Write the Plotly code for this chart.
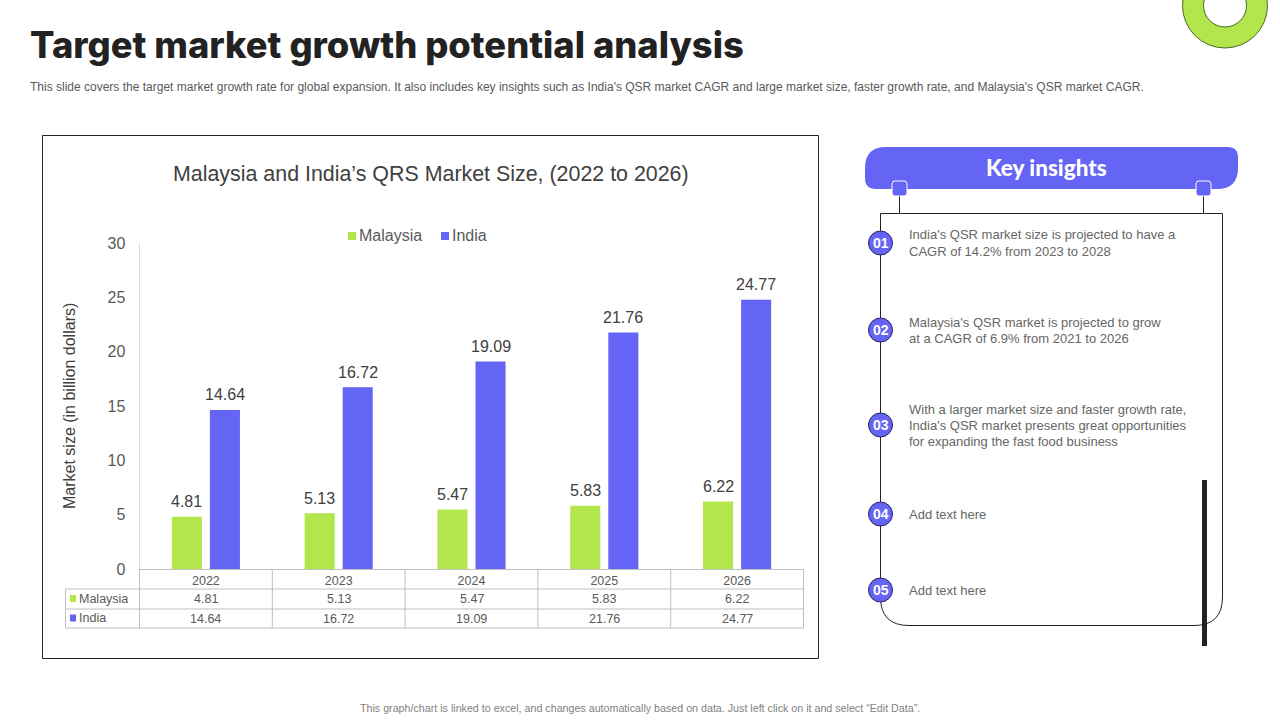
import plotly.graph_objects as go

W, H = 1280, 720
years = ["2022", "2023", "2024", "2025", "2026"]
malaysia = [4.81, 5.13, 5.47, 5.83, 6.22]
india = [14.64, 16.72, 19.09, 21.76, 24.77]
y_ticks = [0, 5, 10, 15, 20, 25, 30]
insights = [
    "India's QSR market size is projected to have a<br>CAGR of 14.2% from 2023 to 2028",
    "Malaysia's QSR market is projected to grow<br>at a CAGR of 6.9% from 2021 to 2026",
    "With a larger market size and faster growth rate,<br>India's QSR market presents great opportunities<br>for expanding the fast food business",
    "Add text here",
    "Add text here",
]
insight_nums = ["01", "02", "03", "04", "05"]
insight_y = [243, 330, 425, 514, 590]
title = "Target market growth potential analysis"
subtitle = ("This slide covers the target market growth rate for global expansion. It also includes key insights such as "
            "India's QSR market CAGR and large market size, faster growth rate, and Malaysia's QSR market CAGR.")
footer = "This graph/chart is linked to excel, and changes automatically based on data. Just left click on it and select \u201cEdit Data\u201d."
chart_title = "Malaysia and India\u2019s QRS Market Size, (2022 to 2026)"
y_title = "Market size (in billion dollars)"

GREEN = "#B2E64C"
PURPLE = "#6464F5"
TXT = "#595959"
DARK = "#222222"
FONT = "Liberation Sans"
PX0, PX1 = 139.5, 803.5
PY0, PY1 = 569, 243


def fx(x):
    return x / W


def fy(y):
    return 1 - y / H


shapes, ann = [], []


def note(x, y, text, size=12, color=TXT, anchor="left", family=FONT, weight=None, angle=0):
    f = dict(size=size, color=color, family=family)
    if weight:
        f["weight"] = weight
    ann.append(dict(x=fx(x), y=fy(y), xref="paper", yref="paper", text=text, showarrow=False,
                    xanchor=anchor, yanchor="middle", align="left" if anchor == "left" else "center",
                    font=f, textangle=angle, borderpad=0, borderwidth=0))


def line(x0, y0, x1, y1, color=DARK, width=1):
    shapes.append(dict(type="line", xref="paper", yref="paper", x0=fx(x0), y0=fy(y0), x1=fx(x1), y1=fy(y1),
                       line=dict(color=color, width=width)))


def rect(x0, y0, x1, y1, fill="rgba(0,0,0,0)", color=None, width=0):
    shapes.append(dict(type="rect", xref="paper", yref="paper", x0=fx(x0), y0=fy(y0), x1=fx(x1), y1=fy(y1),
                       fillcolor=fill, line=dict(color=color or fill, width=width)))


def circle(cx, cy, r, fill, color, width=1):
    shapes.append(dict(type="circle", xref="paper", yref="paper", x0=fx(cx - r), y0=fy(cy - r), x1=fx(cx + r),
                       y1=fy(cy + r), fillcolor=fill, line=dict(color=color, width=width)))


def path(points, fill=None, color=None, width=0):
    out = []
    for p in points:
        if isinstance(p, str):
            out.append(p)
        else:
            out.append(f"{fx(p[0]):.5f},{fy(p[1]):.5f}")
    shapes.append(dict(type="path", xref="paper", yref="paper", path=" ".join(out),
                       fillcolor=fill or "rgba(0,0,0,0)", line=dict(color=color or "rgba(0,0,0,0)", width=width)))


# decorative donut
circle(1225, 5.5, 42.5, GREEN, "#4A6A20", 1)
circle(1225, 5.5, 21.5, "#FFFFFF", "#4A6A20", 1)

# chart frame
rect(42.5, 135.5, 818.5, 658.5, "rgba(0,0,0,0)", "#222222", 1)

# data table grid
GRID = "#BFBFBF"
cw = (PX1 - PX0) / len(years)
for yy in (589, 609, 628):
    line(65.5, yy, PX1, yy, GRID, 1)
line(65.5, 589, 65.5, 628, GRID, 1)
for i in range(len(years) + 1):
    line(PX0 + i * cw, PY0, PX0 + i * cw, 628, GRID, 1)
for name, vals, col, yy in (("Malaysia", malaysia, GREEN, 598.5), ("India", india, PURPLE, 618)):
    rect(70, yy - 3.5, 76, yy + 3.5, col)
    note(79, yy, name, 12.5)
    for i, v in enumerate(vals):
        note(PX0 + (i + 0.5) * cw, yy + 0.5, f"{v:.2f}", 12.5, anchor="center")

# hand legend
rect(348, 232, 356, 240, GREEN)
note(359, 235.5, "Malaysia", 16)
rect(441, 232, 449, 240, PURPLE)
note(451.5, 235.5, "India", 16)

# insights panel
path(["M", (865, 168), "Q", (865, 147), (886, 147), "L", (1228, 147), "Q", (1238, 147), (1238, 158),
     "L", (1238, 168), "Q", (1238, 189), (1217, 189), "L", (876, 189), "Q", (865, 189), (865, 178), "Z"], PURPLE)
path(["M", (880.5, 243), "L", (880.5, 213.5), "L", (1222.5, 213.5), "L", (1222.5, 597),
     "Q", (1222.5, 625.5), (1194, 625.5), "L", (909, 625.5), "Q", (880.5, 625.5), (880.5, 597), "Z"],
     None, "#222222", 1)
line(899.5, 196, 899.5, 213, "#222222", 1)
line(1203.5, 196, 1203.5, 213, "#222222", 1)
for x0 in (892, 1196):
    x1 = x0 + 15
    path(["M", (x0, 184), "Q", (x0, 181), (x0 + 3, 181), "L", (x1 - 3, 181), "Q", (x1, 181), (x1, 184),
          "L", (x1, 193), "Q", (x1, 196), (x1 - 3, 196), "L", (x0 + 3, 196), "Q", (x0, 196), (x0, 193), "Z"],
         PURPLE, "#FFFFFF", 1)
rect(1202, 480, 1207, 646, DARK)
for num, yy, txt in zip(insight_nums, insight_y, insights):
    circle(880.5, yy, 12, PURPLE, "#26265C", 1)
    note(880.5, yy, f"<b>{num}</b>", 14, "#FFFFFF", "center")
    rows = txt.split("<br>")
    for k, row in enumerate(rows):
        note(909, yy + (k - (len(rows) - 1) / 2) * 16, row, 13, "#666666")

# page text
note(30, 45, title, 36.3, "#222222", family="Inter", weight=800)
note(30, 87, subtitle, 12)
note(640, 708, footer, 10.7, "#7F7F7F", "center")
note(431, 174, chart_title, 21.4, "#404040", "center")
note(69, 406, y_title, 16, "#404040", "center", angle=-90)
note(1046, 167, "Key insights", 22.5, "#FFFFFF", "center", family="Lato", weight=900)

fig = go.Figure()
fig.add_bar(name="Malaysia", x=years, y=malaysia, marker_color=GREEN, marker_line_width=0)
fig.add_bar(name="India", x=years, y=india, marker_color=PURPLE, marker_line_width=0)

# value labels placed from the data, shifted onto their bar in the group
for vals, shift in ((malaysia, -19), (india, 19)):
    for i, v in enumerate(vals):
        ann.append(dict(x=i, y=v, xref="x", yref="y", text=f"{v:.2f}", showarrow=False, xshift=shift, yshift=15,
                        xanchor="center", yanchor="middle", font=dict(size=16, color="#404040", family=FONT)))

fig.update_layout(
    width=W, height=H, margin=dict(l=0, r=0, t=0, b=0, pad=0), autosize=False,
    paper_bgcolor="#FFFFFF", plot_bgcolor="#FFFFFF", showlegend=False,
    barmode="group", bargap=0.427, bargroupgap=0.21,
    font=dict(family=FONT, color=TXT), shapes=shapes, annotations=ann,
    xaxis=dict(domain=[fx(PX0), fx(PX1)], type="category", categoryorder="array", categoryarray=years,
               range=[-0.5, len(years) - 0.5], showgrid=False, zeroline=False, showline=True,
               automargin=False, linecolor=GRID, linewidth=1, ticks="",
               tickfont=dict(size=12.5, color=TXT, family=FONT)),
    yaxis=dict(domain=[fy(PY0), fy(PY1)], range=[0, 30], tickvals=y_ticks, showgrid=False, zeroline=False,
               automargin=False, showline=True, linecolor="#D9D9D9", linewidth=1, ticks="",
               tickfont=dict(size=16, color=TXT, family=FONT), ticklabelstandoff=10),
)
fig.write_html("out.html", config=dict(displayModeBar=False),
               post_script="document.body.style.margin='0';document.body.style.overflow='hidden';")
